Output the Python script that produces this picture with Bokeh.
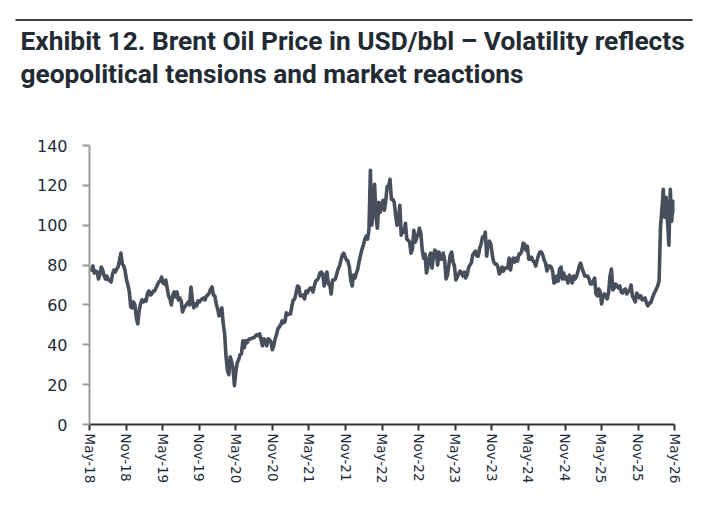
import pandas as pd
from bokeh.plotting import figure
from bokeh.layouts import column
from bokeh.models import (Range1d, FixedTicker, DatetimeTickFormatter, ColumnDataSource)
from bokeh.core.properties import value
from bokeh.embed import file_html
from bokeh.resources import INLINE

TITLE_1 = "Exhibit 12. Brent Oil Price in USD/bbl \u2013 Volatility reflects"
TITLE_2 = "geopolitical tensions and market reactions"

# weekly (Friday) Brent prices, USD/bbl
first_week = "2018-05-04"
brent_2018 = [78.0, 77.5, 79.5, 76.0,
              77.0, 76.5, 73.0, 75.5, 79.0,
              77.5, 74.5, 73.0, 74.5,
              72.5, 72.5, 71.5, 75.5, 77.5,
              76.5, 78.0, 79.0, 82.5,
              86.0, 80.5, 79.5, 77.0,
              72.5, 70.0, 66.5, 59.0, 58.5,
              61.5, 60.0, 53.5, 50.5]
brent_2019 = [57.0, 60.5, 62.5, 61.5,
              62.5, 62.0, 66.0, 67.0,
              65.0, 65.5, 67.0, 67.0, 68.5,
              70.0, 71.5, 72.0, 74.0,
              71.0, 70.5, 72.5, 68.5, 64.5,
              63.0, 60.0, 65.0, 66.5,
              64.0, 66.5, 62.5, 63.5,
              62.0, 56.5, 58.5, 59.5, 60.5,
              61.5, 60.0, 69.0, 62.0,
              58.5, 60.5, 59.5, 62.0,
              61.5, 62.5, 63.0, 63.5, 62.5,
              64.5, 65.0, 66.0, 68.0]
brent_2020 = [69.0, 65.0, 64.5, 60.5, 58.0,
              54.5, 57.0, 58.5, 50.5,
              45.5, 34.0, 27.0, 25.0,
              34.0, 31.5, 28.0, 19.5,
              26.5, 31.0, 32.5, 35.0, 35.5,
              42.0, 38.5, 42.0, 41.0,
              42.5, 43.0, 43.0, 43.5, 43.5,
              44.5, 45.0, 44.5, 45.5,
              42.5, 39.5, 43.0, 42.0,
              39.5, 43.0, 42.5, 41.5, 37.5,
              39.5, 43.0, 45.0, 48.0,
              49.0, 50.0, 52.0, 51.0]
brent_2021 = [51.5, 56.0, 55.0, 55.5, 55.5,
              59.5, 62.5, 63.0, 66.0,
              69.5, 69.0, 64.5, 64.5,
              65.0, 63.0, 67.0, 66.0, 67.5,
              68.5, 68.5, 66.5, 69.5,
              72.0, 72.5, 73.5, 76.0,
              76.5, 75.5, 69.5, 74.0, 76.5,
              70.5, 70.5, 65.5, 72.5,
              72.5, 73.0, 75.5, 78.0,
              79.5, 82.5, 85.0, 86.0, 84.0,
              82.5, 82.0, 79.0, 72.5,
              69.5, 75.0, 73.5, 76.0, 78.0]
brent_2022 = [82.0, 85.0, 88.0, 90.0,
              93.0, 94.5, 93.0, 98.0,
              127.5, 100.0, 108.0, 120.5,
              104.5, 98.5, 111.5, 106.5, 109.5,
              112.5, 107.5, 112.5, 119.5,
              119.5, 123.0, 113.0, 113.0,
              111.5, 105.0, 100.0, 103.0, 110.0,
              95.0, 98.0, 96.5, 101.0,
              93.0, 92.5, 91.5, 86.0, 88.0,
              97.5, 91.5, 93.5, 95.5,
              98.5, 96.0, 87.5, 83.5,
              85.5, 76.0, 79.0, 84.0, 86.0]
brent_2023 = [78.5, 85.0, 87.5, 86.5,
              80.0, 86.5, 83.0, 83.0,
              86.0, 82.5, 73.0, 75.0, 80.0,
              85.0, 86.5, 81.5, 79.5,
              72.5, 74.0, 75.5, 77.0,
              76.0, 74.5, 76.5, 73.5, 75.0,
              78.5, 80.0, 81.0, 85.0,
              86.0, 87.0, 84.5, 84.5,
              88.5, 90.5, 94.0, 93.5, 96.5,
              84.5, 90.5, 92.0, 90.5,
              85.0, 81.5, 80.5, 80.5,
              79.0, 75.5, 76.5, 79.0, 77.0]
brent_2024 = [78.5, 78.5, 78.5, 83.5,
              77.5, 82.0, 83.5, 81.5,
              83.5, 82.0, 85.5, 85.5, 87.0,
              91.0, 90.5, 87.5, 89.5,
              83.0, 83.0, 84.0, 82.0, 81.5,
              79.5, 82.5, 85.0, 86.5,
              86.5, 85.0, 82.5, 81.0,
              77.0, 79.5, 79.5, 79.0, 77.0,
              71.0, 71.5, 74.5, 72.0,
              78.0, 79.0, 73.0, 76.0,
              73.0, 74.0, 71.0, 75.0, 73.0,
              71.0, 74.5, 73.0, 74.0]
brent_2025 = [76.5, 79.5, 81.0, 78.5, 76.5,
              74.5, 74.5, 74.5, 73.0,
              70.5, 70.5, 72.0, 73.5,
              65.5, 64.5, 68.0, 66.5,
              60.5, 64.0, 65.5, 64.5, 63.0,
              66.5, 74.5, 78.0, 67.5,
              68.5, 70.5, 69.5, 68.5,
              69.5, 66.5, 66.0, 67.5, 68.0,
              65.5, 67.0, 67.0, 70.0,
              64.5, 63.0, 61.5, 66.0, 65.0,
              63.5, 64.5, 62.5, 63.0,
              63.5, 61.0, 59.5, 61.0]
brent_2026 = [61.0, 63.0, 65.0, 66.5, 68.0,
              69.5, 72.0, 99.0, 108.0,
              118.0, 104.0, 114.0, 102.0,
              90.0, 118.0, 102.0, 112.0,
              106.0]

brent = (brent_2018 + brent_2019 + brent_2020 + brent_2021 + brent_2022
         + brent_2023 + brent_2024 + brent_2025 + brent_2026)
weeks = pd.date_range(first_week, periods=len(brent), freq="W-FRI")

tick_labels_dates = ["2018-05-01", "2018-11-01", "2019-05-01", "2019-11-01",
                     "2020-05-01", "2020-11-01", "2021-05-01", "2021-11-01",
                     "2022-05-01", "2022-11-01", "2023-05-01", "2023-11-01",
                     "2024-05-01", "2024-11-01", "2025-05-01", "2025-11-01",
                     "2026-05-01"]
y_ticks = [0, 20, 40, 60, 80, 100, 120, 140]
tick_ms = [pd.Timestamp(d).timestamp() * 1000 for d in tick_labels_dates]

W = 710
HEAD_H = 100

# ---------- header: rule + two-line title ----------
head = figure(width=W, height=HEAD_H, output_backend="svg", toolbar_location=None,
              title=None, x_range=Range1d(0, W), y_range=Range1d(HEAD_H, 0),
              min_border=0, x_axis_location=None, y_axis_location=None)
head.frame_align = False
head.outline_line_color = None
head.grid.visible = False
head.segment(x0=[15], y0=[19.5], x1=[692], y1=[19.5], line_color="black", line_width=1.3)
head.text(x=[20, 20], y=[40.5, 73.5], text=[TITLE_1, TITLE_2],
          text_font=value("Roboto"), text_font_style="bold", text_font_size="26.3px",
          text_color="#222a33", text_baseline="alphabetic", text_align="left")

# ---------- main chart ----------
FL, FR, FT, FB = 89, 36, 45, 90
p = figure(width=W, height=FT + 279 + FB, x_axis_type="datetime", output_backend="svg",
           toolbar_location=None, title=None,
           x_range=Range1d(pd.Timestamp(tick_labels_dates[0]), pd.Timestamp(tick_labels_dates[-1])),
           y_range=Range1d(0, 140),
           min_border_left=FL, min_border_right=FR, min_border_top=FT, min_border_bottom=FB)
p.frame_align = False
p.outline_line_color = None
p.grid.visible = False

src = ColumnDataSource(dict(date=weeks, price=brent))
p.line("date", "price", source=src, line_color="#474f5c", line_width=3.6,
       line_join="round")

xa = p.xaxis[0]
xa.ticker = FixedTicker(ticks=tick_ms)
fmt = "%b-%y"
xa.formatter = DatetimeTickFormatter(milliseconds=fmt, seconds=fmt, minsec=fmt, minutes=fmt,
                                     hourmin=fmt, hours=fmt, days=fmt, months=fmt, years=fmt)
xa.major_label_orientation = "vertical"
xa.major_label_text_font = "DejaVu Sans"
xa.major_label_text_font_size = "13.5px"
xa.major_label_text_color = "#1e2a3a"
xa.major_label_standoff = 3
xa.axis_line_color = "#333333"
xa.axis_line_width = 2
xa.major_tick_line_color = "#333333"
xa.major_tick_line_width = 2
xa.major_tick_out = 6
xa.major_tick_in = 0
xa.minor_tick_line_color = None

ya = p.yaxis[0]
ya.ticker = FixedTicker(ticks=y_ticks)
ya.major_label_text_font = "DejaVu Sans"
ya.major_label_text_font_size = "16px"
ya.major_label_text_color = "#1e2a3a"
ya.major_label_standoff = 15
ya.axis_line_color = "#9a9a9a"
ya.axis_line_width = 2
ya.major_tick_line_color = "#9a9a9a"
ya.major_tick_line_width = 2
ya.major_tick_out = 7
ya.major_tick_in = 0
ya.minor_tick_line_color = None

layout = column(head, p, spacing=0)
open("out.html", "w").write(file_html(layout, INLINE))
